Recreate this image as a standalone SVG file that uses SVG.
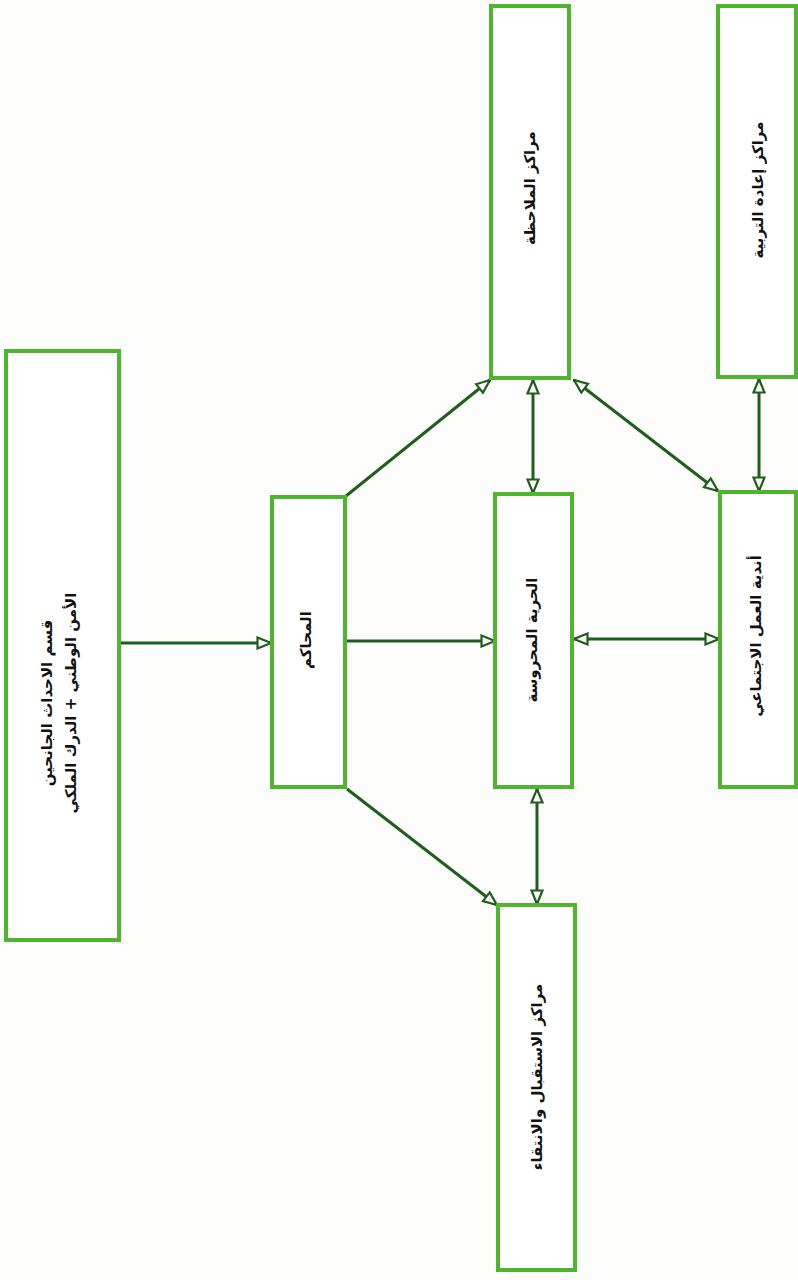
<svg xmlns="http://www.w3.org/2000/svg" width="798" height="1280" viewBox="0 0 798 1280">
<defs>
<style>
.box{fill:#ffffff;stroke:#4fb52e;stroke-width:4}
.lbl{font-family:"DejaVu Sans",sans-serif;font-size:15px;font-weight:bold;fill:#111;text-anchor:middle;dominant-baseline:central}
.con{stroke:#1f5e1c;stroke-width:3;fill:none}
</style>
<marker id="ah" viewBox="0 0 16 14" refX="15" refY="7" markerWidth="16" markerHeight="14" markerUnits="userSpaceOnUse" orient="auto-start-reverse">
<path d="M1.5,1.5 L15,7 L1.5,12.5 Z" fill="#ffffff" stroke="#1f5e1c" stroke-width="2.2"/>
</marker>
</defs>
<rect width="798" height="1280" fill="#fdfdfb"/>
<g id="connectors">
<line class="con" x1="120" y1="643" x2="271" y2="643" marker-end="url(#ah)"/>
<line class="con" x1="345" y1="641" x2="495" y2="641" marker-end="url(#ah)"/>
<line class="con" x1="346" y1="496" x2="490" y2="380" marker-end="url(#ah)"/>
<line class="con" x1="347" y1="789" x2="497" y2="905" marker-end="url(#ah)"/>
<line class="con" x1="533" y1="380" x2="533" y2="493" marker-start="url(#ah)" marker-end="url(#ah)"/>
<line class="con" x1="574" y1="380" x2="718" y2="491" marker-start="url(#ah)" marker-end="url(#ah)"/>
<line class="con" x1="759" y1="379" x2="759" y2="491" marker-start="url(#ah)" marker-end="url(#ah)"/>
<line class="con" x1="574" y1="639" x2="719" y2="639" marker-start="url(#ah)" marker-end="url(#ah)"/>
<line class="con" x1="537" y1="789" x2="537" y2="904" marker-start="url(#ah)" marker-end="url(#ah)"/>
</g>
<g id="n-police">
<rect class="box" x="6" y="351" width="113" height="589"/>
<text class="lbl" transform="rotate(-90 47 703)" x="47" y="703">قسم الاحداث الجانحين</text>
<text class="lbl" transform="rotate(-90 71 703)" x="71" y="703">الأمن الوطني + الدرك الملكي</text>
</g>
<g id="n-courts">
<rect class="box" x="272" y="497" width="73" height="290"/>
<text class="lbl" transform="rotate(-90 306 640)" x="306" y="640">المحاكم</text>
</g>
<g id="n-probation">
<rect class="box" x="495" y="494" width="77" height="293"/>
<text class="lbl" transform="rotate(-90 532 640)" x="532" y="640">الحرية المحروسة</text>
</g>
<g id="n-observation">
<rect class="box" x="491" y="6" width="78" height="372"/>
<text class="lbl" transform="rotate(-90 530 188)" x="530" y="188">مراكز الملاحظة</text>
</g>
<g id="n-reeducation">
<rect class="box" x="718" y="6" width="78" height="371"/>
<text class="lbl" transform="rotate(-90 758 190)" x="758" y="190">مراكز إعادة التربية</text>
</g>
<g id="n-clubs">
<rect class="box" x="720" y="492" width="76" height="295"/>
<text class="lbl" transform="rotate(-90 756 636)" x="756" y="636">أندية العمل الاجتماعي</text>
</g>
<g id="n-reception">
<rect class="box" x="498" y="905" width="77" height="365"/>
<text class="lbl" transform="rotate(-90 537 1077)" x="537" y="1077">مراكز الاستقبال والانتقاء</text>
</g>
</svg>
